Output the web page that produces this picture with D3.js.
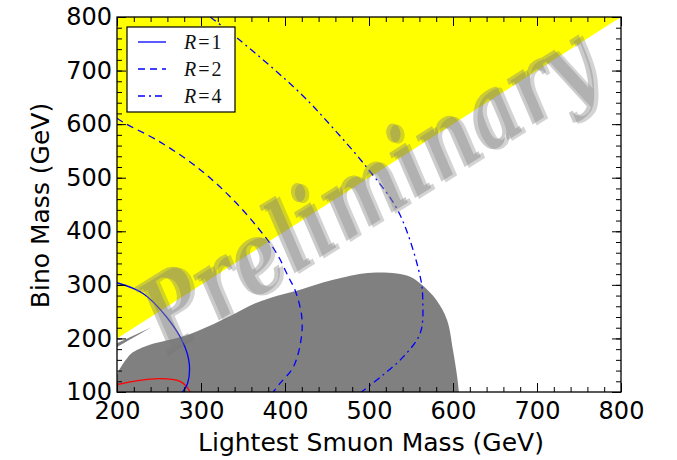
<!DOCTYPE html>
<html>
<head>
    <meta charset="utf-8">
    <title>Smuon / Bino exclusion</title>
    <style>
        body {
            margin: 0;
            background: #fff;
            font-family: "DejaVu Sans", sans-serif;
        }
        svg {
            display: block;
        }
        .tick text {
            font-size: 24px;
            fill: #000;
        }
        .legend text {
            font-family: "Liberation Serif", serif;
            font-size: 20px;
        }
    </style>
    <script src="https://cdn.jsdelivr.net/npm/d3@7"></script>
</head>
<body>
<script>
    // values, [smuon mass, bino mass] in GeV
    var xTicks = [200, 300, 400, 500, 600, 700, 800];
    var yTicks = [100, 200, 300, 400, 500, 600, 700, 800];
    var yellowRegion = [[200, 200], [800, 800], [200, 800]];
    var greyRegion = [[200, 100], [200, 132], [206, 150], [212, 163], [217, 172], [239, 188],
        [283, 206], [335, 242], [364, 265], [392, 280], [420, 292], [454, 308], [493, 321],
        [513, 323], [533, 321], [549, 315], [563, 300], [580, 272], [593, 234], [600, 178],
        [605, 128], [607, 100]];
    var greyStrip = [[200, 184], [241, 221], [200, 191]];
    var redCurve = [[200, 114], [220, 120], [251, 125], [275, 120], [283, 110], [287, 100]];
    var r1Curve = [[200, 304], [231, 284], [259, 240], [279, 191], [286, 153], [284, 116], [278, 100]];
    var r2Curve = [[200, 611], [209, 602], [251, 567], [295, 520], [335, 464], [367, 408], [390, 359],
        [404, 315], [412, 290], [420, 240], [419, 197], [410, 147], [394, 116], [386, 100]];
    var r4Curve = [[311, 800], [346, 757], [418, 658], [457, 593], [499, 516], [535, 437],
        [561, 315], [564, 272], [561, 210], [541, 166], [517, 132], [491, 100]];
    var legendNames = ["R", "R", "R"];
    var legendValues = [1, 2, 4];

    var W = 677, H = 460;
    var pLeft = 117, pRight = 621, pTop = 17, pBottom = 392;

    var svg = d3.select("body").append("svg")
            .attr("width", W)
            .attr("height", H);

    var x = d3.scaleLinear().domain([200, 800]).range([pLeft, pRight]);
    var y = d3.scaleLinear().domain([100, 800]).range([pBottom, pTop]);

    svg.append("defs").append("clipPath").attr("id", "plotclip")
            .append("rect")
            .attr("x", pLeft).attr("y", pTop)
            .attr("width", pRight - pLeft).attr("height", pBottom - pTop);

    var plot = svg.append("g").attr("clip-path", "url(#plotclip)");

    var poly = d3.line().x(function (d) { return x(d[0]); }).y(function (d) { return y(d[1]); });
    var smooth = d3.line().x(function (d) { return x(d[0]); }).y(function (d) { return y(d[1]); })
            .curve(d3.curveCatmullRom);

    plot.append("path").attr("d", poly(yellowRegion) + "Z").attr("fill", "#ffff00");
    plot.append("path").attr("d", smooth(greyRegion) + "Z").attr("fill", "#808080");
    plot.append("path").attr("d", poly(greyStrip) + "Z").attr("fill", "#808080");

    plot.append("path").attr("d", smooth(redCurve))
            .attr("fill", "none").attr("stroke", "#ff0000").attr("stroke-width", 1.3);

    var styles = [
        {data: r1Curve, dash: null},
        {data: r2Curve, dash: "7,5"},
        {data: r4Curve, dash: "7,4,2,4"}
    ];
    styles.forEach(function (s) {
        plot.append("path").attr("d", smooth(s.data))
                .attr("fill", "none").attr("stroke", "#0000ff").attr("stroke-width", 1.3)
                .attr("stroke-dasharray", s.dash);
    });

    // axes, ticks pointing inwards on all four sides
    function minor(domain) {
        return d3.range(domain[0], domain[1] + 1, 20);
    }
    function addAxis(axis, tx, ty, ticks, major) {
        var g = svg.append("g").attr("transform", "translate(" + tx + "," + ty + ")")
                .call(axis.tickValues(ticks).tickSizeInner(major ? -9 : -5).tickSizeOuter(0));
        g.select(".domain").remove();
        g.selectAll(".tick line").attr("stroke", "#000").attr("stroke-width", 1);
        return g;
    }
    var noLabel = function () { return ""; };

    addAxis(d3.axisBottom(x).tickFormat(noLabel), 0, pBottom, minor([200, 800]), false);
    addAxis(d3.axisTop(x).tickFormat(noLabel), 0, pTop, minor([200, 800]), false);
    addAxis(d3.axisLeft(y).tickFormat(noLabel), pLeft, 0, minor([100, 800]), false);
    addAxis(d3.axisRight(y).tickFormat(noLabel), pRight, 0, minor([100, 800]), false);

    addAxis(d3.axisBottom(x).tickFormat(d3.format("d")).tickPadding(10), 0, pBottom, xTicks, true)
            .selectAll("text").style("font-family", "DejaVu Sans");
    addAxis(d3.axisTop(x).tickFormat(noLabel), 0, pTop, xTicks, true);
    addAxis(d3.axisLeft(y).tickFormat(d3.format("d")).tickPadding(5), pLeft, 0, yTicks, true)
            .selectAll("text").style("font-family", "DejaVu Sans");
    addAxis(d3.axisRight(y).tickFormat(noLabel), pRight, 0, yTicks, true);

    svg.append("rect")
            .attr("x", pLeft).attr("y", pTop)
            .attr("width", pRight - pLeft).attr("height", pBottom - pTop)
            .attr("fill", "none").attr("stroke", "#000").attr("stroke-width", 1.3);

    // axis titles
    svg.append("text")
            .attr("x", (pLeft + pRight) / 2 + 2).attr("y", 451)
            .attr("text-anchor", "middle")
            .style("font-size", "25px")
            .text("Lightest Smuon Mass (GeV)");
    svg.append("text")
            .attr("transform", "translate(49," + ((pTop + pBottom) / 2 + 1) + ") rotate(-90)")
            .attr("text-anchor", "middle")
            .style("font-size", "25px")
            .text("Bino Mass (GeV)");

    // legend
    var leg = svg.append("g").attr("class", "legend");
    leg.append("rect")
            .attr("x", 127).attr("y", 27).attr("width", 108).attr("height", 85)
            .attr("fill", "#fff").attr("stroke", "#000").attr("stroke-width", 1.2);
    legendNames.forEach(function (name, i) {
        var ly = 42 + i * 27;
        leg.append("line")
                .attr("x1", 138).attr("x2", 166).attr("y1", ly).attr("y2", ly)
                .attr("stroke", "#0000ff").attr("stroke-width", 1.3)
                .attr("stroke-dasharray", styles[i].dash);
        var t = leg.append("text").attr("x", 184).attr("y", ly + 7).attr("fill", "#111");
        t.append("tspan").style("font-style", "italic").text(name);
        t.append("tspan").attr("dx", 2).text("=");
        t.append("tspan").attr("dx", 2).text(legendValues[i]);
    });

    // watermark
    var wm = svg.append("g").attr("transform", "translate(368,192) rotate(-32)");
    wm.append("text")
            .attr("text-anchor", "middle")
            .attr("x", 3).attr("y", 33)
            .attr("textLength", 515).attr("lengthAdjust", "spacingAndGlyphs")
            .style("font-family", "DejaVu Serif")
            .style("font-style", "italic")
            .style("font-weight", "bold")
            .style("font-size", "100px")
            .attr("fill", "#707070").attr("opacity", 0.3)
            .text("Preliminary");
    wm.append("text")
            .attr("text-anchor", "middle")
            .attr("x", 0).attr("y", 30)
            .attr("textLength", 515).attr("lengthAdjust", "spacingAndGlyphs")
            .style("font-family", "DejaVu Serif")
            .style("font-style", "italic")
            .style("font-weight", "bold")
            .style("font-size", "100px")
            .attr("fill", "#808080").attr("opacity", 0.4)
            .text("Preliminary");
</script>
</body>
</html>
